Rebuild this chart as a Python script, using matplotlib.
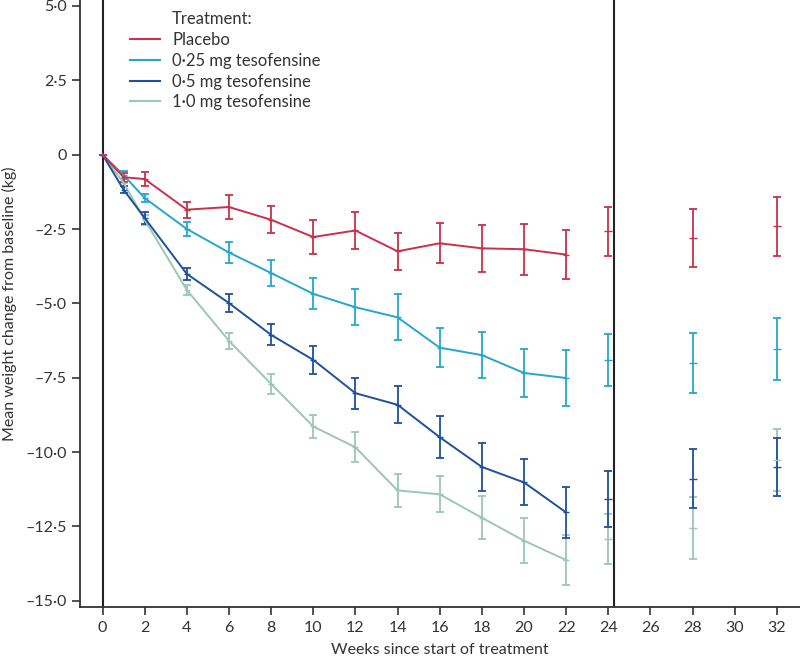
import matplotlib
matplotlib.use("Agg")
from matplotlib import pyplot as plt
from matplotlib.lines import Line2D
from matplotlib.ticker import FuncFormatter

plt.rcParams['font.family'] = ['Lato', 'DejaVu Sans']

# Weeks with connected lines, and the follow-up weeks (no line)
weeks = [0, 1, 2, 4, 6, 8, 10, 12, 14, 16, 18, 20, 22]
later_weeks = [24, 28, 32]

labels = ["Placebo", "0\u00b725 mg tesofensine", "0\u00b75 mg tesofensine", "1\u00b70 mg tesofensine"]
colors = ["#c9304a", "#25a7cb", "#1f4f9e", "#9cc7b2"]

placebo = [0, -0.76, -0.82, -1.85, -1.76, -2.19, -2.77, -2.55, -3.25, -2.98, -3.15, -3.18, -3.36]
placebo_err = [0, 0.15, 0.23, 0.27, 0.39, 0.45, 0.57, 0.61, 0.62, 0.67, 0.79, 0.85, 0.83]
placebo_late = [-2.58, -2.81, -2.41]
placebo_late_err = [0.83, 0.98, 0.99]

low_dose = [0, -0.69, -1.46, -2.50, -3.29, -3.98, -4.68, -5.13, -5.47, -6.49, -6.74, -7.34, -7.51]
low_dose_err = [0, 0.14, 0.14, 0.24, 0.34, 0.44, 0.52, 0.61, 0.77, 0.66, 0.78, 0.80, 0.95]
low_dose_late = [-6.90, -7.01, -6.54]
low_dose_late_err = [0.88, 1.00, 1.05]

mid_dose = [0, -1.18, -2.13, -4.01, -4.99, -6.06, -6.90, -8.02, -8.41, -9.50, -10.50, -11.02, -12.03]
mid_dose_err = [0, 0.11, 0.20, 0.20, 0.30, 0.35, 0.47, 0.52, 0.62, 0.70, 0.80, 0.77, 0.87]
mid_dose_late = [-11.58, -10.89, -10.50]
mid_dose_late_err = [0.94, 0.99, 0.98]

high_dose = [0, -0.95, -2.19, -4.55, -6.26, -7.71, -9.14, -9.84, -11.29, -11.42, -12.21, -12.98, -13.63]
high_dose_err = [0, 0.12, 0.17, 0.17, 0.26, 0.35, 0.39, 0.51, 0.55, 0.61, 0.72, 0.76, 0.84]
high_dose_late = [-12.92, -12.56, -10.26]
high_dose_late_err = [0.83, 1.04, 1.04]

series = [
    (placebo, placebo_err, placebo_late, placebo_late_err),
    (low_dose, low_dose_err, low_dose_late, low_dose_late_err),
    (mid_dose, mid_dose_err, mid_dose_late, mid_dose_late_err),
    (high_dose, high_dose_err, high_dose_late, high_dose_late_err),
]

fig = plt.figure(figsize=(8, 6.63), dpi=100)
ax = fig.add_axes([0.1, 0.084, 0.9, 0.916])

# draw in reverse so placebo sits on top
for (vals, err, late, late_err), c in reversed(list(zip(series, colors))):
    ax.errorbar(weeks, vals, yerr=err, color=c, lw=1.4, elinewidth=1.3,
                capsize=3, capthick=1.3, marker='_', ms=5)
    ax.errorbar(later_weeks, late, yerr=late_err, color=c, ls='none',
                elinewidth=1.3, capsize=3, capthick=1.3, marker='_', ms=6)

ax.axvline(0, color='#222222', lw=1.5, zorder=0)
ax.axvline(24.25, color='#222222', lw=1.5, zorder=0)

ax.set_xlim(-1.07, 33.1)
ax.set_ylim(-15.22, 5.2)
ax.set_xticks(range(0, 33, 2))
ax.set_yticks([5, 2.5, 0, -2.5, -5, -7.5, -10, -12.5, -15])


def fmt(v, pos):
    if v == 0:
        return "0"
    return f"{v:.1f}".replace('.', '\u00b7').replace('-', '\u2013')


ax.yaxis.set_major_formatter(FuncFormatter(fmt))

for s in ['top', 'right']:
    ax.spines[s].set_visible(False)
for s in ['left', 'bottom']:
    ax.spines[s].set_color('#333333')
    ax.spines[s].set_linewidth(1.3)
ax.tick_params(axis='both', direction='out', length=6, width=1.2, color='#333333',
               labelsize=11.5, labelcolor='#333333')

ax.set_xlabel("Weeks since start of treatment", fontsize=11.5, color='#333333', labelpad=6)
ax.set_ylabel("Mean weight change from baseline (kg)", fontsize=11.5, color='#333333', labelpad=6)

handles = [Line2D([], [], color=c, lw=1.5) for c in colors]
ax.text(0.128, 0.969, "Treatment:", transform=ax.transAxes, fontsize=12,
        color='#333333', va='center', ha='left')
ax.legend(handles, labels, loc='upper left', bbox_to_anchor=(0.0606, 0.958), frameon=False,
          fontsize=12, handlelength=1.8, handletextpad=0.72, labelspacing=0.28,
          borderaxespad=0, labelcolor='#333333')

fig.savefig("out.png", dpi=100)
